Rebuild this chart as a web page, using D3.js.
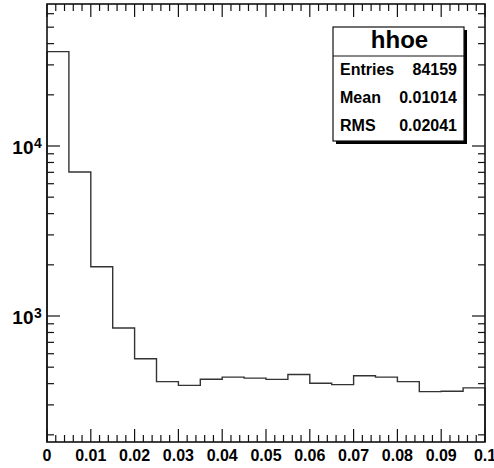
<!DOCTYPE html>
<html>
<head>
<meta charset="utf-8">
<script src="https://cdn.jsdelivr.net/npm/d3@7"></script>
<style>
  body { margin: 0; background: #fff; }
  text { font-family: "Liberation Sans", Arial, Helvetica, sans-serif; font-weight: bold; }
</style>
</head>
<body>
<script>
// histogram bins (width 0.005)
var binEdges = [0, 0.005, 0.01, 0.015, 0.02, 0.025, 0.03, 0.035, 0.04, 0.045, 0.05,
                0.055, 0.06, 0.065, 0.07, 0.075, 0.08, 0.085, 0.09, 0.095, 0.1];
var counts = [35900, 7030, 1950, 850, 561, 411, 391, 425, 437, 431,
              424, 453, 402, 395, 445, 437, 411, 359, 361, 378];
var xTickLabels = ["0", "0.01", "0.02", "0.03", "0.04", "0.05", "0.06", "0.07", "0.08", "0.09", "0.1"];
var yDomain = [181.5, 68430];
var statsTitle = "hhoe";
var statsNames = ["Entries", "Mean", "RMS"];
var statsValues = ["84159", "0.01014", "0.02041"];

var s = {
    "width": 494, "height": 468,
    "left": 47, "right": 485, "top": 4, "bottom": 442,
    "major": 13, "minor": 7
};

var svg = d3.select("body").append("svg")
    .attr("width", s.width)
    .attr("height", s.height);

var x = d3.scaleLinear().domain([0, 0.1]).range([s.left, s.right]);
var y = d3.scaleLog().domain(yDomain).range([s.bottom, s.top]);

// x ticks: majors every 0.01, 4 minors in between
var xTicks = [];
for (let i = 0; i <= 50; i++) xTicks.push({ v: i * 0.002, major: i % 5 == 0 });

// y ticks: 1..9 x 10^k inside the domain
var yTicks = [];
for (let k = 2; k <= 4; k++) {
    for (let m = 1; m <= 9; m++) {
        let v = m * Math.pow(10, k);
        if (v >= yDomain[0] && v <= yDomain[1]) yTicks.push({ v: v, major: m == 1, k: k });
    }
}

var tickG = svg.append("g").attr("stroke", "#111").attr("stroke-width", 1.2);

// bottom & top
tickG.selectAll("line.xb").data(xTicks).join("line")
    .attr("x1", d => x(d.v)).attr("x2", d => x(d.v))
    .attr("y1", s.bottom).attr("y2", d => s.bottom - (d.major ? s.major : s.minor));
tickG.selectAll("line.xt").data(xTicks).join("line")
    .attr("x1", d => x(d.v)).attr("x2", d => x(d.v))
    .attr("y1", s.top).attr("y2", d => s.top + (d.major ? s.major : s.minor));
// left & right
tickG.selectAll("line.yl").data(yTicks).join("line")
    .attr("y1", d => y(d.v)).attr("y2", d => y(d.v))
    .attr("x1", s.left).attr("x2", d => s.left + (d.major ? s.major : s.minor));
tickG.selectAll("line.yr").data(yTicks).join("line")
    .attr("y1", d => y(d.v)).attr("y2", d => y(d.v))
    .attr("x1", s.right).attr("x2", d => s.right - (d.major ? s.major : s.minor));

// histogram outline
var pts = [];
for (let i = 0; i < counts.length; i++) {
    pts.push([x(binEdges[i]), y(counts[i])]);
    pts.push([x(binEdges[i + 1]), y(counts[i])]);
}
pts.unshift([x(binEdges[0]), s.bottom]);
pts.push([x(binEdges[binEdges.length - 1]), s.bottom]);
svg.append("path")
    .attr("d", d3.line()(pts))
    .attr("fill", "none")
    .attr("stroke", "#333")
    .attr("stroke-width", 1.4);

// frame
svg.append("rect")
    .attr("x", s.left).attr("y", s.top)
    .attr("width", s.right - s.left).attr("height", s.bottom - s.top)
    .attr("fill", "none").attr("stroke", "#111").attr("stroke-width", 1.6);

// x labels
svg.append("g").selectAll("text").data(xTickLabels).join("text")
    .attr("x", (d, i) => x(i * 0.01))
    .attr("y", 461)
    .attr("text-anchor", "middle")
    .style("font-size", "16px")
    .text(d => d);

// y labels (10^k)
var yMajors = yTicks.filter(d => d.major);
svg.append("g").selectAll("text").data(yMajors).join("text")
    .attr("x", 33.5)
    .attr("y", d => y(d.v) + 8)
    .attr("text-anchor", "end")
    .style("font-size", "19px")
    .text("10");
svg.append("g").selectAll("text").data(yMajors).join("text")
    .attr("x", 34)
    .attr("y", d => y(d.v) + 2.3)
    .style("font-size", "14px")
    .text(d => d.k);

// stats box
var box = { x: 333, y: 27, w: 131, h: 114, sep: 56 };
svg.append("rect")
    .attr("x", box.x + 3).attr("y", box.y + 3)
    .attr("width", box.w).attr("height", box.h)
    .attr("fill", "#000");
svg.append("rect")
    .attr("x", box.x).attr("y", box.y)
    .attr("width", box.w).attr("height", box.h)
    .attr("fill", "#fff").attr("stroke", "#111").attr("stroke-width", 1.2);
svg.append("line")
    .attr("x1", box.x).attr("x2", box.x + box.w)
    .attr("y1", box.sep).attr("y2", box.sep)
    .attr("stroke", "#111").attr("stroke-width", 1.2);
svg.append("text")
    .attr("x", box.x + box.w / 2 + 1)
    .attr("y", 48)
    .attr("text-anchor", "middle")
    .style("font-size", "24px")
    .text(statsTitle);
var rowY = [75, 103, 131];
svg.append("g").selectAll("text").data(statsNames).join("text")
    .attr("x", 340).attr("y", (d, i) => rowY[i])
    .style("font-size", "16px")
    .text(d => d);
svg.append("g").selectAll("text").data(statsValues).join("text")
    .attr("x", 457).attr("y", (d, i) => rowY[i])
    .attr("text-anchor", "end")
    .style("font-size", "16px")
    .text(d => d);
</script>
</body>
</html>
